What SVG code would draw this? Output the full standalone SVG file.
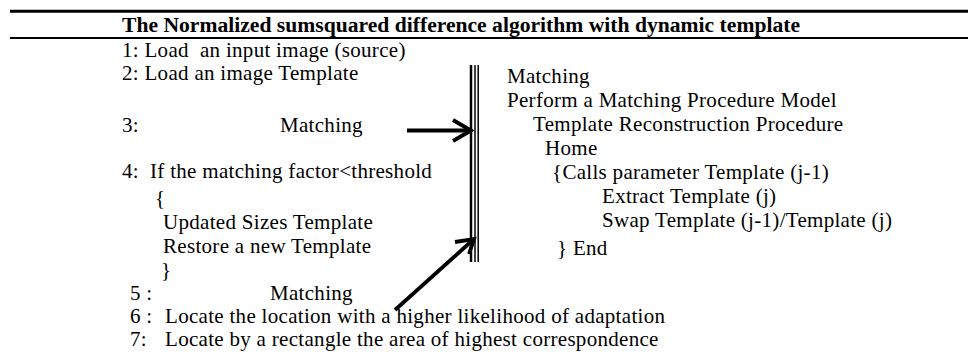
<svg xmlns="http://www.w3.org/2000/svg" width="968" height="356" viewBox="0 0 968 356">
<style>
.t{font-family:"Liberation Serif","Times New Roman",serif;font-size:21px;letter-spacing:0.3px;fill:#000;white-space:pre}
.b{font-family:"Liberation Serif","Times New Roman",serif;font-size:20px;font-weight:bold;fill:#000}
.ar{fill:none;stroke:#000;stroke-width:3.8;stroke-linecap:butt;stroke-linejoin:miter}
</style>
<rect width="968" height="356" fill="#fff"/>
<g id="rules">
<line x1="10" y1="11.3" x2="968" y2="11.3" stroke="#000" stroke-width="3"/>
<line x1="10" y1="38" x2="968" y2="38" stroke="#000" stroke-width="2"/>
</g>
<g id="title"><text class="b" x="122" y="32" textLength="678" lengthAdjust="spacingAndGlyphs">The Normalized sumsquared difference algorithm with dynamic template</text></g>
<g id="left">
<text class="t" x="122" y="57" xml:space="preserve">1: Load  an input image (source)</text>
<text class="t" x="122" y="80">2: Load an image Template</text>
<text class="t" x="122" y="132">3:</text>
<text class="t" x="280" y="132">Matching</text>
<text class="t" x="122" y="178" xml:space="preserve">4:  If the matching factor&lt;threshold</text>
<text class="t" x="155" y="205">{</text>
<text class="t" x="163" y="229">Updated Sizes Template</text>
<text class="t" x="163" y="253">Restore a new Template</text>
<text class="t" x="161" y="277">}</text>
<text class="t" x="130" y="300">5 :</text>
<text class="t" x="270" y="300">Matching</text>
<text class="t" x="130" y="323">6 :</text>
<text class="t" x="165" y="323">Locate the location with a higher likelihood of adaptation</text>
<text class="t" x="130" y="346">7:</text>
<text class="t" x="165" y="346">Locate by a rectangle the area of highest correspondence</text>
</g>
<g id="bar">
<line x1="471" y1="65" x2="471" y2="262" stroke="#000" stroke-width="2.5"/>
<line x1="475" y1="65" x2="475" y2="262" stroke="#000" stroke-width="1.5"/>
<line x1="478.2" y1="65" x2="478.2" y2="262" stroke="#000" stroke-width="1.5"/>
</g>
<g id="right">
<text class="t" x="507" y="83">Matching</text>
<text class="t" x="507" y="107">Perform a Matching Procedure Model</text>
<text class="t" x="533" y="131">Template Reconstruction Procedure</text>
<text class="t" x="545" y="155">Home</text>
<text class="t" x="552" y="179">{Calls parameter Template (j-1)</text>
<text class="t" x="602" y="203">Extract Template (j)</text>
<text class="t" x="602" y="227">Swap Template (j-1)/Template (j)</text>
<text class="t" x="557" y="255">} End</text>
</g>
<g id="connectors">
<path class="ar" d="M407 130.5 H471"/>
<path class="ar" d="M453 120 L471 130.5 L453 141"/>
<path class="ar" d="M395 310 L474 239"/>
<path class="ar" d="M455 242 L474 239 L469 254"/>
</g>
</svg>
